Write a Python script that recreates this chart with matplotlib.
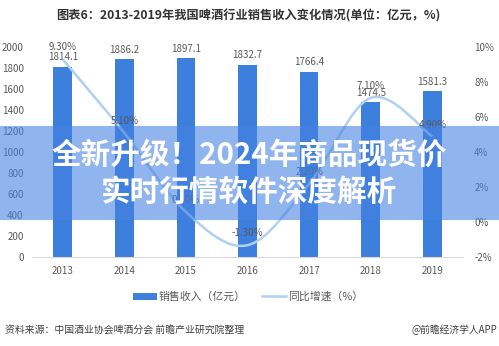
import matplotlib
matplotlib.use('Agg')
import matplotlib.pyplot as plt
from matplotlib.path import Path
from matplotlib.patches import PathPatch, Patch, Rectangle
from matplotlib.lines import Line2D

plt.rcParams['font.family'] = ['Noto Sans CJK SC', 'DejaVu Sans']

# 数据
years = ['2013', '2014', '2015', '2016', '2017', '2018', '2019']
revenue = [1814.1, 1886.2, 1897.1, 1832.7, 1766.4, 1474.5, 1581.3]   # 销售收入（亿元）
growth = [9.3, 5.1, 0.6, -1.3, 2.2, 7.1, 4.9]                         # 同比增速（%）
growth_labels = ['9.30%', '5.10%', '0.60%', '-1.30%', '2.20%', '7.10%', '4.90%']
left_ticks = [0, 200, 400, 600, 800, 1000, 1200, 1400, 1600, 1800, 2000]
right_ticks = [-2, 0, 2, 4, 6, 8, 10]

bar_color = '#3c7fdc'
line_color = '#aed0f2'
text_gray = '#595959'

fig = plt.figure(figsize=(4.99, 3.46), dpi=100)
ax = fig.add_axes([0.064, 0.2558, 0.864, 0.6084])
x = list(range(len(years)))

ax.bar(x, revenue, width=0.3, color=bar_color, zorder=2)
for xi, v in zip(x, revenue):
    ax.annotate('%.1f' % v, (xi, v), xytext=(0, 3), textcoords='offset points',
                ha='center', va='bottom', fontsize=7, color=text_gray)

ax.set_xlim(-0.5, 6.5)
ax.set_ylim(0, 2000)
ax.set_yticks(left_ticks)
ax.set_xticks(x)
ax.set_xticklabels(years)
ax.tick_params(axis='y', length=0, pad=6, labelsize=7, labelcolor=text_gray)
ax.tick_params(axis='x', length=0, pad=6, labelsize=7, labelcolor=text_gray)
for s in ['top', 'right', 'left']:
    ax.spines[s].set_visible(False)
ax.spines['bottom'].set_color('#d9d9d9')

# 右轴：同比增速，平滑曲线（Catmull-Rom 转贝塞尔）
ax2 = ax.twinx()
ax2.set_ylim(-2, 10)
ax2.set_yticks(right_ticks)
ax2.set_yticklabels(['%d%%' % t for t in right_ticks])
ax2.tick_params(axis='y', length=0, pad=8, labelsize=7, labelcolor=text_gray)
for s in ax2.spines.values():
    s.set_visible(False)

pts = list(zip(x, growth))
verts = [pts[0]]
codes = [Path.MOVETO]
for i in range(len(pts) - 1):
    p0 = pts[i - 1] if i > 0 else pts[i]
    p1 = pts[i]
    p2 = pts[i + 1]
    p3 = pts[i + 2] if i + 2 < len(pts) else pts[i + 1]
    c1 = (p1[0] + (p2[0] - p0[0]) / 6, p1[1] + (p2[1] - p0[1]) / 6)
    c2 = (p2[0] - (p3[0] - p1[0]) / 6, p2[1] - (p3[1] - p1[1]) / 6)
    verts += [c1, c2, p2]
    codes += [Path.CURVE4] * 3
ax2.add_patch(PathPatch(Path(verts, codes), facecolor='none', edgecolor=line_color,
                        lw=1.8, zorder=3))
for xi, g, lab in zip(x, growth, growth_labels):
    ax2.annotate(lab, (xi, g), xytext=(0, 5), textcoords='offset points',
                 ha='center', va='bottom', fontsize=7, color=text_gray)

# 标题
fig.text(0.498, 0.955, '图表6：2013-2019年我国啤酒行业销售收入变化情况(单位：亿元，%)',
         ha='center', va='center', fontsize=8.8, fontweight='bold', color='#333333')

# 图例
handles = [Patch(facecolor=bar_color, edgecolor='none'),
           Line2D([0], [0], color=line_color, lw=1.8)]
fig.legend(handles, ['销售收入（亿元）', '同比增速（%）'], loc='center',
           bbox_to_anchor=(0.497, 0.142), ncol=2, frameon=False, fontsize=7.8,
           handlelength=2.2, handletextpad=0.2, columnspacing=1.5,
           labelcolor=text_gray)

# 来源
fig.text(0.01, 0.046, '资料来源：中国酒业协会啤酒分会 前瞻产业研究院整理',
         ha='left', va='center', fontsize=7.1, color='#404040')
fig.text(0.996, 0.046, '@前瞻经济学人APP', ha='right', va='center',
         fontsize=7, color='#404040')

# 横幅
fig.add_artist(Rectangle((0, 1 - 220 / 346), 1, 94 / 346, transform=fig.transFigure,
                         facecolor='#4682e1', alpha=0.6, edgecolor='none', zorder=10))
fig.text(0.5, 1 - 155 / 346, '全新升级！2024年商品现货价', ha='center', va='center',
         fontsize=21.3, fontweight='bold', color='white', zorder=11)
fig.text(0.5, 1 - 192 / 346, '实时行情软件深度解析', ha='center', va='center',
         fontsize=21.3, fontweight='bold', color='white', zorder=11)

fig.savefig('out.png', dpi=100)
